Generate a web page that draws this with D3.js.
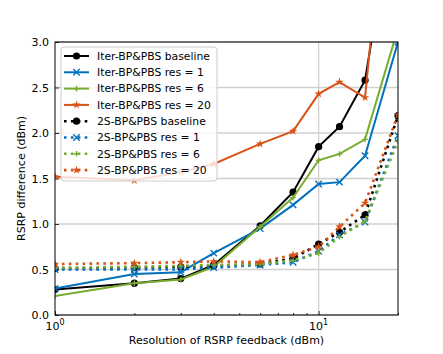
<!DOCTYPE html>
<html><head><meta charset="utf-8">
<script src="https://cdn.jsdelivr.net/npm/d3@7"></script>
<style>body{margin:0;background:#fff}text{font-family:"DejaVu Sans",sans-serif}</style>
</head><body><svg id="c" width="443" height="354"></svg>
<script>
const xValues = [1, 2, 3, 4, 6, 8, 10, 12, 15, 20];
const iterBaseline = [0.28, 0.35, 0.40, 0.55, 0.98, 1.35, 1.85, 2.07, 2.58, 4.8];
const iterRes1     = [0.29, 0.45, 0.47, 0.68, 0.95, 1.21, 1.44, 1.46, 1.75, 3.0];
const iterRes6     = [0.21, 0.35, 0.39, 0.53, 0.97, 1.29, 1.70, 1.77, 1.93, 3.15];
const iterRes20    = [1.52, 1.48, 1.57, 1.66, 1.88, 2.02, 2.43, 2.56, 2.39, 6.1];
const s2Baseline   = [0.51, 0.52, 0.53, 0.54, 0.56, 0.62, 0.78, 0.91, 1.10, 2.19];
const s2Res1       = [0.50, 0.50, 0.50, 0.52, 0.55, 0.58, 0.70, 0.88, 1.02, 1.97];
const s2Res6       = [0.52, 0.53, 0.54, 0.55, 0.56, 0.60, 0.68, 0.86, 1.03, 1.91];
const s2Res20      = [0.56, 0.57, 0.58, 0.59, 0.58, 0.66, 0.75, 0.97, 1.23, 2.20];
const seriesNames = ["Iter-BP&PBS baseline","Iter-BP&PBS res = 1","Iter-BP&PBS res = 6","Iter-BP&PBS res = 20",
  "2S-BP&PBS baseline","2S-BP&PBS res = 1","2S-BP&PBS res = 6","2S-BP&PBS res = 20"];
const yTicks = [0, 0.5, 1.0, 1.5, 2.0, 2.5, 3.0];
const xTickLabels = [[1, "0"], [10, "1"]];

const colors = ["#000000","#0072BD","#77AC30","#D95319"];
const markers = ["o","x","+","*"];
const allData = [iterBaseline, iterRes1, iterRes6, iterRes20, s2Baseline, s2Res1, s2Res6, s2Res20];
const series = allData.map((v,i)=>({name:seriesNames[i], values:v, color:colors[i%4], marker:markers[i%4], dotted:i>=4}));

const L=55, R=398, T=42, B=315;
const svg = d3.select("#c");
const x = d3.scaleLog().domain([1,20]).range([L,R]);
const y = d3.scaleLinear().domain([0,3]).range([B,T]);

svg.append("defs").append("clipPath").attr("id","clip").append("rect")
  .attr("x",L).attr("y",T).attr("width",R-L).attr("height",B-T);

// grid
const grid = svg.append("g");
yTicks.forEach(t=>{ grid.append("line").attr("x1",L).attr("x2",R).attr("y1",y(t)).attr("y2",y(t))
  .attr("stroke","#d0d0d0").attr("stroke-width",1.3); });
[10].forEach(t=>{ grid.append("line").attr("x1",x(t)).attr("x2",x(t)).attr("y1",T).attr("y2",B)
  .attr("stroke","#d0d0d0").attr("stroke-width",1.3); });

// axes (ticks inward)
const xAxis = d3.axisBottom(x).tickValues([1,10]).tickSizeInner(-4).tickSizeOuter(0).tickFormat("");
const gx = svg.append("g").attr("transform",`translate(0,${B})`).call(xAxis);
gx.select(".domain").remove();
const gxm = svg.append("g").attr("transform",`translate(0,${B})`)
  .call(d3.axisBottom(x).tickValues([2,3,4,5,6,7,8,9,20]).tickSizeInner(-2).tickSizeOuter(0).tickFormat(""));
gxm.select(".domain").remove();
xTickLabels.forEach(([v,e])=>{
  const t = svg.append("text").attr("x",x(v)).attr("y",B+15).attr("text-anchor","middle").attr("font-size",11);
  t.append("tspan").text("10");
  t.append("tspan").attr("font-size",8).attr("dy",-5).text(e);
});
const gy = svg.append("g").attr("transform",`translate(${L},0)`)
  .call(d3.axisLeft(y).tickValues(yTicks).tickSizeInner(-4).tickSizeOuter(0).tickFormat(d3.format(".1f")).tickPadding(6));
gy.select(".domain").remove();
gy.selectAll("text").attr("font-size",11).attr("font-family","DejaVu Sans").attr("fill","#000");
svg.selectAll(".tick line").attr("stroke","#000").attr("stroke-width",0.8);

// lines
const plot = svg.append("g").attr("clip-path","url(#clip)");
const line = d3.line().x((d,i)=>x(xValues[i])).y(d=>y(d));
function drawMarker(g, m, cx, cy, color){
  if(m==="o") g.append("circle").attr("cx",cx).attr("cy",cy).attr("r",3.6).attr("fill",color);
  else if(m==="x") g.append("path").attr("d",`M${cx-3.2},${cy-3.2}L${cx+3.2},${cy+3.2}M${cx-3.2},${cy+3.2}L${cx+3.2},${cy-3.2}`).attr("stroke",color).attr("stroke-width",1.4);
  else if(m==="+") g.append("path").attr("d",`M${cx-2.8},${cy}L${cx+2.8},${cy}M${cx},${cy-2.8}L${cx},${cy+2.8}`).attr("stroke",color).attr("stroke-width",1.4);
  else if(m==="*") g.append("path").attr("d",d3.symbol(d3.symbolStar,22)()).attr("transform",`translate(${cx},${cy})`).attr("fill",color);
}
series.forEach(s=>{
  plot.append("path").datum(s.values).attr("d",line).attr("fill","none").attr("stroke",s.color)
    .attr("stroke-width",s.dotted?2.6:2).attr("stroke-dasharray",s.dotted?"2.6,4.3":null);
  s.values.forEach((v,i)=>drawMarker(plot,s.marker,x(xValues[i]),y(v),s.color));
});

// frame
svg.append("rect").attr("x",L).attr("y",T).attr("width",R-L).attr("height",B-T).attr("fill","none").attr("stroke","#000").attr("stroke-width",1);

// legend
const lg = svg.append("g");
lg.append("rect").attr("x",61).attr("y",47).attr("width",156).attr("height",134).attr("rx",3)
  .attr("fill","#fff").attr("fill-opacity",0.8).attr("stroke","#cccccc").attr("stroke-width",1);
series.forEach((s,i)=>{
  const cy = 56 + i*16.3;
  lg.append("line").attr("x1",64).attr("x2",89).attr("y1",cy).attr("y2",cy).attr("stroke",s.color)
    .attr("stroke-width",s.dotted?2.6:2).attr("stroke-dasharray",s.dotted?"2.6,4.3":null);
  drawMarker(lg,s.marker,76.5,cy,s.color);
  lg.append("text").attr("x",97).attr("y",cy+3.8).attr("font-size",10.8).text(s.name);
});

// labels
svg.append("text").attr("x",(L+R)/2).attr("y",344).attr("text-anchor","middle").attr("font-size",11).text("Resolution of RSRP feedback (dBm)");
svg.append("text").attr("transform",`translate(25,${(T+B)/2}) rotate(-90)`).attr("text-anchor","middle").attr("font-size",11).text("RSRP difference (dBm)");
</script></body></html>
